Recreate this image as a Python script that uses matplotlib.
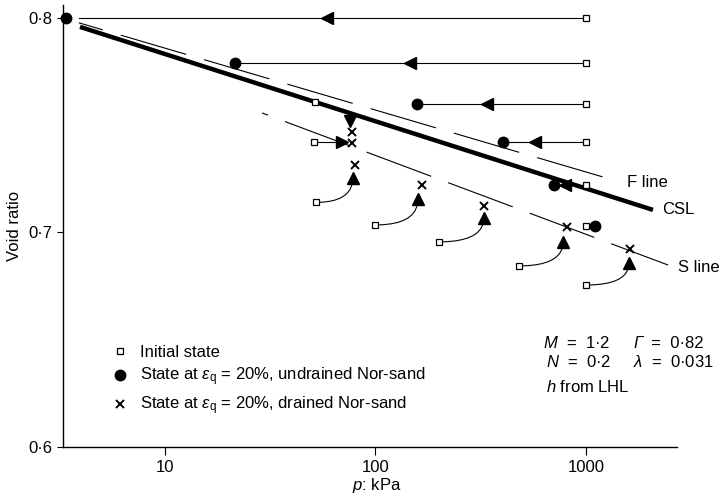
import numpy as np
import matplotlib
matplotlib.use("Agg")
from matplotlib import pyplot as plt

plt.rcParams['font.family'] = ['Liberation Sans', 'DejaVu Sans']
plt.rcParams['font.size'] = 12
plt.rcParams['mathtext.fontset'] = 'custom'
plt.rcParams['mathtext.rm'] = 'Liberation Sans'
plt.rcParams['mathtext.it'] = 'Liberation Sans:italic'
plt.rcParams['mathtext.bf'] = 'Liberation Sans:bold'
plt.rcParams['lines.scale_dashes'] = False

# undrained tests: start at p = 1000 kPa, end at the filled circles
und_e = [0.800, 0.779, 0.760, 0.742, 0.722, 0.703]
und_p0 = [1000, 1000, 1000, 1000, 1000, 1000]
und_pend = [3.4, 21.5, 157, 403, 705, 1105]
und_arrow_p = [59, 146, 339, 573, 795]

# drained tests with curved paths
dr_p0 = [52, 100, 200, 480, 1000]
dr_e0 = [0.714, 0.7035, 0.6956, 0.6844, 0.6755]
dr_tri_p = [78, 159, 327, 778, 1600]
dr_tri_e = [0.7254, 0.7156, 0.7068, 0.6956, 0.6858]
dr_x_p = [80, 166, 327, 810, 1620]
dr_x_e = [0.7315, 0.7221, 0.7124, 0.7026, 0.6923]

# two drained tests at about 50 kPa near the CSL
near_p0 = [51.6, 51]
near_e0 = [0.7608, 0.7422]
near_tri_p = [75.7, 69.4]
near_tri_e = [0.752, 0.7422]
near_x_p = [77.3, 77.3]
near_x_e = [0.7469, 0.7417]

# reference lines (end points)
csl_p = [3.95, 2080]
csl_e = [0.7958, 0.7105]
f_p = [3.9, 1452]
f_e = [0.7977, 0.7235]
s_p = [28.9, 2455]
s_e = [0.7557, 0.6848]

W, H = 722, 496
fig = plt.figure(figsize=(W / 100, H / 100), dpi=100)
ax = fig.add_axes([63 / W, 1 - 447 / H, 614 / W, 442 / H])
ax.set_xscale('log')
ax.set_xlim(3.28, 2705)
ax.set_ylim(0.6, 0.806)

# lines
ax.plot(csl_p, csl_e, color='black', lw=3.2, solid_capstyle='butt', zorder=3)
ax.plot(f_p, f_e, color='black', lw=0.8, ls=(31, (49, 13.5)), zorder=2)
ax.plot(s_p, s_e, color='black', lw=0.8, ls=(45, (49.7, 13)), zorder=2)
ax.annotate('F line', xy=(f_p[1], f_e[1]), xytext=(5, 0), textcoords='offset points',
            va='center', ha='left')
ax.annotate('CSL', xy=(csl_p[1], csl_e[1]), xytext=(6.5, 0), textcoords='offset points',
            va='center', ha='left')
ax.annotate('S line', xy=(s_p[1], s_e[1]), xytext=(7, -2), textcoords='offset points',
            va='center', ha='left')

# undrained paths
for i in range(len(und_e)):
    p_start = und_pend[i] if i > 0 else 3.9
    ax.plot([p_start, und_p0[i]], [und_e[i], und_e[i]], color='black', lw=0.8, zorder=2)
ax.plot(und_arrow_p, und_e[:len(und_arrow_p)], ls='none', marker='<', ms=9,
        color='black', zorder=4)
h_ci, = ax.plot(und_pend, und_e, ls='none', marker='o', ms=7.5, color='black',
                zorder=5, clip_on=False)

# drained curved paths
for i in range(len(dr_p0)):
    ax.annotate('', xy=(dr_tri_p[i], dr_tri_e[i]), xytext=(dr_p0[i], dr_e0[i]),
                arrowprops=dict(arrowstyle='-', lw=0.8, color='black',
                                connectionstyle='angle3,angleA=0,angleB=90',
                                shrinkA=3, shrinkB=4))
ax.plot(dr_tri_p, dr_tri_e, ls='none', marker='^', ms=9, color='black', zorder=4)

# the two near-CSL drained tests
ax.plot([near_p0[1], near_tri_p[1]], [near_e0[1], near_tri_e[1]], color='black', lw=0.8, zorder=2)
ax.plot(near_tri_p[:1], near_tri_e[:1], ls='none', marker='v', ms=9, color='black', zorder=4)
ax.plot(near_tri_p[1:], near_tri_e[1:], ls='none', marker='>', ms=9, color='black', zorder=4)

h_x, = ax.plot(dr_x_p + near_x_p, dr_x_e + near_x_e, ls='none', marker='x', ms=5.5,
               mew=1.4, color='black', zorder=5)
h_sq, = ax.plot(und_p0 + dr_p0 + near_p0, und_e + dr_e0 + near_e0, ls='none', marker='s',
                ms=5, mew=0.9, mfc='white', mec='black', zorder=6)

leg = ax.legend([h_sq, h_ci, h_x],
                ['Initial state',
                 r'State at $\varepsilon_\mathrm{q}$ = 20%, undrained Nor-sand',
                 r'State at $\varepsilon_\mathrm{q}$ = 20%, drained Nor-sand'],
                loc='upper left', bbox_to_anchor=(0.08, 0.231), frameon=False,
                handlelength=1.0, handletextpad=0.7, borderpad=0, borderaxespad=0,
                labelspacing=0.36, fontsize=12)

# model parameters
fig.text(543 / W, 1 - 343 / H, r'$M$  =  1·2', va='center', ha='left')
fig.text(633 / W, 1 - 343 / H, 'Γ', style='italic', va='center', ha='left')
fig.text(642 / W, 1 - 343 / H, '  =  0·82', va='center', ha='left')
fig.text(546 / W, 1 - 362 / H, r'$N$  =  0·2', va='center', ha='left')
fig.text(633 / W, 1 - 362 / H, r'$\lambda$  =  0·031', va='center', ha='left')
fig.text(546 / W, 1 - 387 / H, r'$h$ from LHL', va='center', ha='left')

# axes styling
for s in ['top', 'right']:
    ax.spines[s].set_visible(False)
for s in ['left', 'bottom']:
    ax.spines[s].set_linewidth(1.0)
ax.set_xticks([10, 100, 1000])
ax.set_xticklabels(['10', '100', '1000'])
ax.xaxis.set_minor_locator(matplotlib.ticker.NullLocator())
ax.set_yticks([0.6, 0.7, 0.8])
ax.set_yticklabels(['0·6', '0·7', '0·8'])
ax.tick_params(axis='x', direction='out', length=6, width=0.8, pad=3)
ax.tick_params(axis='y', direction='out', length=4.5, width=0.8, pad=3.5)
ax.set_xlabel(r'$p$: kPa')
ax.set_ylabel('Void ratio')
ax.xaxis.set_label_coords(0.511, -0.065)
ax.yaxis.set_label_coords(-0.066, 0.5)

fig.savefig('out.png', dpi=100)
